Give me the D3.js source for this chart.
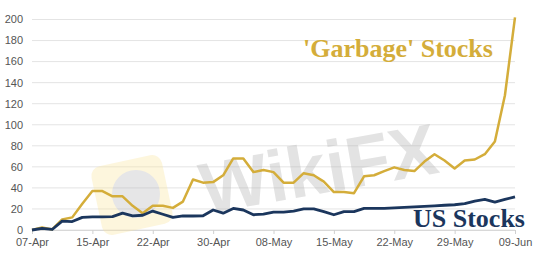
<!DOCTYPE html>
<html>
<head>
<meta charset="utf-8">
<script src="https://cdn.jsdelivr.net/npm/d3@7"></script>
<style>
  body { margin: 0; background: #fff; }
  #chart { width: 550px; height: 256px; }
</style>
</head>
<body>
<div id="chart"></div>
<script>
// tick labels shown along the x axis, every 6th point
const dateLabels = ['07-Apr', '15-Apr', '22-Apr', '30-Apr', '08-May', '15-May', '22-May', '29-May', '09-Jun'];
const yTicks = [0, 20, 40, 60, 80, 100, 120, 140, 160, 180, 200];

// values, one per point
const garbage = [0, 2.5, 0.5, 10, 12, 25, 37, 37, 32, 32, 23, 16, 23, 23, 21, 27, 48, 45, 45.5, 52,
  68, 68, 55, 57, 55, 45, 45, 54, 52, 46, 36, 36, 35, 51, 52, 56, 59.5, 57, 56, 65,
  72, 66, 58.5, 66, 67, 72, 84, 128, 202];
const usStocks = [0, 1.5, 0.5, 8.5, 8, 12, 12.5, 12.5, 12.7, 16, 13.5, 14, 18, 15, 12, 13.5, 13.3, 13.5, 19, 16,
  20.5, 19, 14.5, 15, 17, 17, 18, 20, 20, 17.5, 14.5, 17.5, 17.5, 20.5, 20.5, 20.5, 21, 21.5, 22, 22.5,
  23, 23.5, 24, 25, 27.5, 29, 26.5, 29, 31.5];

const gold = '#d4ad3a', navy = '#1b365d';
const sans = '"Liberation Sans", Arial, sans-serif';
const serif = '"Liberation Serif", "DejaVu Serif", serif';

function lineChart(container) {
  const width = 550, height = 256;
  const margin = {left: 32, right: 35, top: 19.5, bottom: 26};

  const svg = d3.select(container).append('svg')
    .attr('width', width).attr('height', height);

  const x = d3.scaleLinear()
    .domain([0, garbage.length - 1])
    .range([margin.left, width - margin.right]);
  const y = d3.scaleLinear()
    .domain([0, 200])
    .range([height - margin.bottom, margin.top]);

  // grid
  svg.append('g')
    .selectAll('line')
    .data(yTicks)
    .enter()
    .append('line')
    .attr('x1', x(0)).attr('x2', x(garbage.length - 1))
    .attr('y1', d => y(d)).attr('y2', d => y(d))
    .attr('stroke', '#e4e4e4').attr('stroke-width', 1);

  // y labels
  svg.append('g')
    .selectAll('text')
    .data(yTicks)
    .enter()
    .append('text')
    .attr('x', 23).attr('y', d => y(d)).attr('dy', '0.35em')
    .attr('text-anchor', 'end')
    .style('font-family', sans).style('font-size', '11px')
    .attr('fill', '#555')
    .text(d => d);

  // x axis
  const xAxis = d3.axisBottom(x)
    .tickValues(dateLabels.map((d, i) => i * 6))
    .tickFormat((d, i) => dateLabels[i])
    .tickSize(4).tickPadding(4);
  const gx = svg.append('g')
    .attr('transform', 'translate(0,' + y(0) + ')')
    .call(xAxis);
  gx.select('.domain').attr('stroke', '#d8d8d8');
  gx.selectAll('.tick line').attr('stroke', '#d0d0d0');
  gx.selectAll('.tick text')
    .attr('fill', '#555')
    .style('font-family', sans).style('font-size', '11px');

  // watermark
  const wm = svg.append('g').attr('opacity', 0.35);
  wm.append('rect')
    .attr('x', 96).attr('y', 160).attr('width', 72).attr('height', 70).attr('rx', 10)
    .attr('transform', 'rotate(-12,132,195)')
    .attr('fill', '#fbe6a0');
  wm.append('circle')
    .attr('cx', 136).attr('cy', 194).attr('r', 24)
    .attr('fill', '#b8b8bc');
  wm.append('text')
    .attr('x', 205).attr('y', 214)
    .attr('transform', 'rotate(-10,205,214)')
    .style('font-family', sans).style('font-size', '72px').style('font-weight', 'bold')
    .attr('fill', '#b0b0b0')
    .text('WikiFX');

  const line = d3.line()
    .x((d, i) => x(i))
    .y(d => y(d));

  svg.append('path')
    .datum(garbage)
    .attr('d', line)
    .attr('fill', 'none').attr('stroke', gold)
    .attr('stroke-width', 2.5).attr('stroke-linejoin', 'round');

  svg.append('path')
    .datum(usStocks)
    .attr('d', line)
    .attr('fill', 'none').attr('stroke', navy)
    .attr('stroke-width', 2.8).attr('stroke-linejoin', 'round');

  svg.append('text')
    .attr('x', 303).attr('y', 57)
    .style('font-family', serif).style('font-size', '26px').style('font-weight', 'bold')
    .attr('fill', gold)
    .text("'Garbage' Stocks");

  svg.append('text')
    .attr('x', 413).attr('y', 227)
    .style('font-family', serif).style('font-size', '26px').style('font-weight', 'bold')
    .attr('fill', navy)
    .text('US Stocks');
}

lineChart(document.getElementById('chart'));
</script>
</body>
</html>
